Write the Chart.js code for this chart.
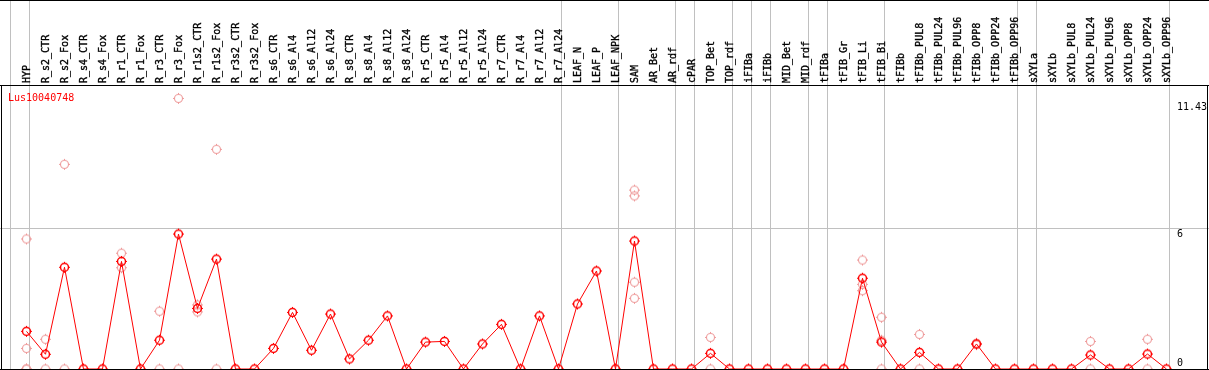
<!DOCTYPE html>
<html>
<head>
<meta charset="utf-8">
<script src="https://cdn.jsdelivr.net/npm/chart.js@4.4.1/dist/chart.umd.min.js"></script>
<style>
  html, body { margin: 0; padding: 0; background: #fff; }
  #wrap { width: 1209px; height: 370px; position: relative; }
</style>
</head>
<body>
<div id="wrap"><canvas id="geneChart"></canvas></div>
<script>
// -- categories (samples), in drawing order
var categories = ["HYP", "R_s2_CTR", "R_s2_Fox", "R_s4_CTR", "R_s4_Fox", "R_r1_CTR", "R_r1_Fox",
  "R_r3_CTR", "R_r3_Fox", "R_r1s2_CTR", "R_r1s2_Fox", "R_r3s2_CTR", "R_r3s2_Fox", "R_s6_CTR",
  "R_s6_Al4", "R_s6_Al12", "R_s6_Al24", "R_s8_CTR", "R_s8_Al4", "R_s8_Al12", "R_s8_Al24",
  "R_r5_CTR", "R_r5_Al4", "R_r5_Al12", "R_r5_Al24", "R_r7_CTR", "R_r7_Al4", "R_r7_Al12", "R_r7_Al24",
  "LEAF_N", "LEAF_P", "LEAF_NPK", "SAM", "AR_Bet", "AR_rdf", "cPAR", "TOP_Bet", "TOP_rdf",
  "iFIBa", "iFIBb", "MID_Bet", "MID_rdf", "tFIBa", "tFIB_Gr", "tFIB_Li", "tFIB_Bi", "tFIBb",
  "tFIBb_PUL8", "tFIBb_PUL24", "tFIBb_PUL96", "tFIBb_OPP8", "tFIBb_OPP24", "tFIBb_OPP96",
  "sXYLa", "sXYLb", "sXYLb_PUL8", "sXYLb_PUL24", "sXYLb_PUL96", "sXYLb_OPP8", "sXYLb_OPP24", "sXYLb_OPP96"];

// -- mean expression per sample
var meanValues = [1.61, 0.63, 4.35, 0, 0, 4.60, 0, 1.23, 5.77, 2.59, 4.70, 0, 0, 0.88,
  2.42, 0.80, 2.35, 0.43, 1.23, 2.27, 0,
  1.15, 1.18, 0, 1.07, 1.91, 0, 2.27, 0,
  2.78, 4.19, 0, 5.47, 0, 0, 0, 0.67, 0,
  0, 0, 0, 0, 0, 0, 3.88, 1.15, 0,
  0.71, 0, 0, 1.07, 0, 0,
  0, 0, 0, 0.60, 0, 0, 0.64, 0];

// -- replicates (null = none)
var n = null;
var rep1 = [5.56, 1.27, 8.75, n, n, 4.95, n, 2.47, 11.57, 2.74, 9.39, n, n, n,
  n, n, n, n, n, n, n,
  n, n, n, n, n, n, n, n,
  n, n, n, 7.65, n, n, n, 1.35, n,
  n, n, n, n, n, n, 4.66, 2.21, n,
  1.48, n, n, 1.10, n, n,
  n, n, n, 1.18, n, n, 1.27, n];
var rep2 = [0.88, 0, 0, n, n, 4.33, n, 0, 0, 2.44, 0, n, n, n,
  n, n, n, n, n, n, n,
  n, n, n, n, n, n, n, n,
  n, n, n, 7.40, n, n, n, 0, n,
  n, n, n, n, n, n, 3.62, 1.23, n,
  0, n, n, 1.04, n, n,
  n, n, n, 0, n, n, 0, n];
var rep3 = [0, n, n, n, n, n, n, n, n, n, n, n, n, n,
  n, n, n, n, n, n, n,
  n, n, n, n, n, n, n, n,
  n, n, n, 3.71, n, n, n, n, n,
  n, n, n, n, n, n, 3.35, 0, n,
  n, n, n, n, n, n,
  n, n, n, n, n, n, n, n];
var rep4 = [0, n, n, n, n, n, n, n, n, n, n, n, n, n,
  n, n, n, n, n, n, n,
  n, n, n, n, n, n, n, n,
  n, n, n, 3.02, n, n, n, n, n,
  n, n, n, n, n, n, n, n, n,
  n, n, n, n, n, n,
  n, n, n, n, n, n, n, n];

var geneName = "Lus10040748";
var yTickValues = [0, 6, 11.43];
var groupBreaks = [0, 1, 29, 32, 35, 36, 38, 39, 40, 42, 43, 46, 53, 54, 61];

var FONT = "10px 'DejaVu Sans Mono', monospace";

// circle with little ticks, like the original markers
function makeMarker(color, lw) {
  var c = document.createElement('canvas');
  c.width = 15; c.height = 15;
  var g = c.getContext('2d');
  g.strokeStyle = color;
  g.lineWidth = lw;
  g.beginPath(); g.arc(7.5, 7.5, 4, 0, Math.PI * 2); g.stroke();
  g.lineWidth = 1;
  g.beginPath();
  g.moveTo(7.5, 2); g.lineTo(7.5, 3.5);
  g.moveTo(7.5, 11.5); g.lineTo(7.5, 13);
  g.moveTo(2, 7.5); g.lineTo(3.5, 7.5);
  g.moveTo(11.5, 7.5); g.lineTo(13, 7.5);
  g.stroke();
  return c;
}
var mainMarker = makeMarker('#ff0000', 1.5);
var repMarker = makeMarker('#ee9a9a', 1.1);

function toXY(arr) {
  var out = [];
  arr.forEach(function (v, i) { if (v !== null) out.push({ x: i, y: v }); });
  return out;
}

var decor = {
  id: 'decor',
  beforeDatasetsDraw: function (chart) {
    var ctx = chart.ctx, xs = chart.scales.x, ys = chart.scales.y;
    ctx.save();
    ctx.fillStyle = '#c0c0c0';
    groupBreaks.forEach(function (k) {
      var px = Math.floor(xs.getPixelForValue(k - 0.82));
      ctx.fillRect(px, 0, 1, 370);
    });
    var py = Math.floor(ys.getPixelForValue(6));
    ctx.fillRect(0, py, 1209, 1);
    ctx.restore();
  },
  afterDatasetsDraw: function (chart) {
    var ctx = chart.ctx, xs = chart.scales.x, ys = chart.scales.y;
    ctx.save();
    ctx.fillStyle = '#000';
    ctx.fillRect(0, 0, 1209, 1);
    ctx.fillRect(0, 85, 1209, 1);
    ctx.fillRect(0, 369, 1209, 1);
    ctx.fillRect(1, 85, 1, 285);
    ctx.fillRect(1207, 85, 1, 285);

    ctx.font = FONT;
    ctx.strokeStyle = '#000';
    ctx.lineWidth = 0.35;
    // sample labels, rotated
    categories.forEach(function (name, i) {
      var px = Math.floor(xs.getPixelForValue(i));
      ctx.save();
      ctx.translate(px + 4, 83);
      ctx.rotate(-Math.PI / 2);
      ctx.textAlign = 'left';
      ctx.textBaseline = 'alphabetic';
      ctx.fillText(name, 0, 0);
      ctx.strokeText(name, 0, 0);
      ctx.restore();
    });

    // value labels on the right
    ctx.textAlign = 'left';
    ctx.textBaseline = 'alphabetic';
    yTickValues.forEach(function (v) {
      var py = Math.round(ys.getPixelForValue(v));
      ctx.fillText(String(v), 1177, v === 0 ? py - 3 : py + 8);
    });

    ctx.fillStyle = '#ff0000';
    ctx.fillText(geneName, 8, 101);
    ctx.restore();
  }
};

var ctx = document.getElementById('geneChart');
var geneChart = new Chart(ctx, {
  type: 'line',
  data: {
    datasets: [{
      data: toXY(meanValues),
      borderColor: '#ff0000',
      borderWidth: 1,
      pointStyle: mainMarker,
      pointRadius: 5,
      tension: 0,
      clip: false
    }, {
      data: toXY(rep1), showLine: false, pointStyle: repMarker, pointRadius: 5, clip: false
    }, {
      data: toXY(rep2), showLine: false, pointStyle: repMarker, pointRadius: 5, clip: false
    }, {
      data: toXY(rep3), showLine: false, pointStyle: repMarker, pointRadius: 5, clip: false
    }, {
      data: toXY(rep4), showLine: false, pointStyle: repMarker, pointRadius: 5, clip: false
    }]
  },
  options: {
    responsive: true,
    maintainAspectRatio: false,
    animation: false,
    events: [],
    layout: { autoPadding: false, padding: { top: 85, bottom: 1, left: 1, right: 1 } },
    plugins: { legend: { display: false }, tooltip: { enabled: false } },
    scales: {
      x: { type: 'linear', display: false, min: -1.3421, max: -1.3421 + 1207 / 19 },
      y: { type: 'linear', display: false, min: 0, max: 284 / 23.39 }
    }
  },
  plugins: [decor]
});
</script>
</body>
</html>
